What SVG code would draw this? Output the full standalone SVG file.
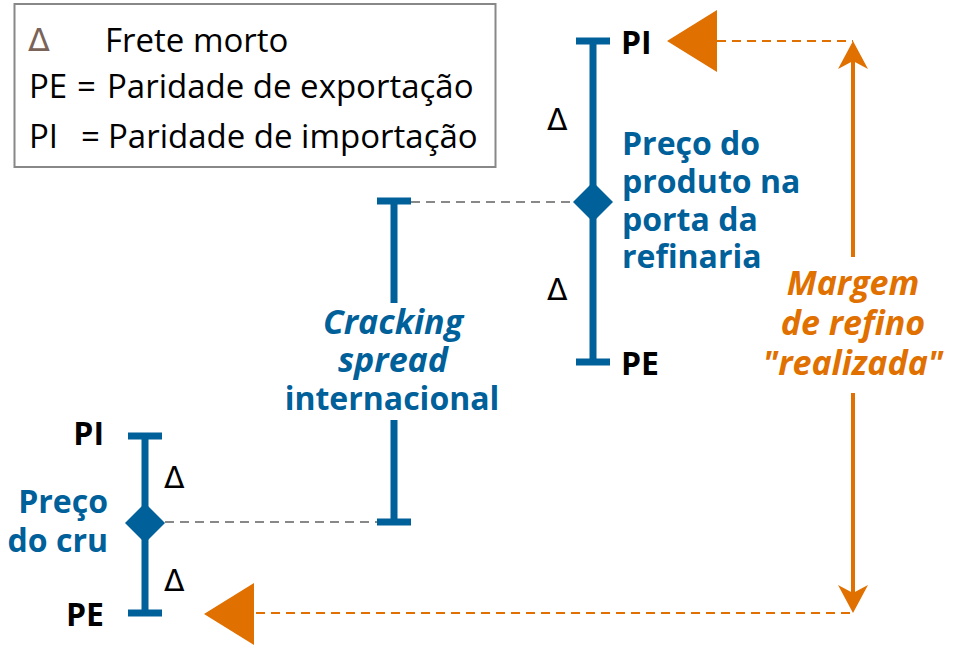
<svg xmlns="http://www.w3.org/2000/svg" width="964" height="646" viewBox="0 0 964 646">
<defs>
<style>
.leg{font-family:"Open Sans","Noto Sans",sans-serif;font-size:33px;fill:#000}
.lab{font-family:"Open Sans","Noto Sans",sans-serif;font-size:32px;font-weight:bold;fill:#000}
.blu{font-family:"Open Sans","Noto Sans",sans-serif;font-size:32px;font-weight:bold;fill:#00609a}
.ita{font-size:34px;font-style:italic}
.org{font-family:"Open Sans","Noto Sans",sans-serif;font-size:34px;font-weight:bold;font-style:italic;fill:#e07000}
.del{font-family:"DejaVu Sans",sans-serif;font-size:30px;fill:#000}
.bar{stroke:#00609a;stroke-width:7;fill:none}
.dia{fill:#00609a}
.gdash{stroke:#888;stroke-width:2;stroke-dasharray:9,6;fill:none}
.odash{stroke:#e07000;stroke-width:2;stroke-dasharray:9,6;fill:none}
.oline{stroke:#e07000;stroke-width:4;fill:none}
.otri{fill:#e07000}
</style>
</defs>
<rect width="964" height="646" fill="#fff"/>

<g id="legend">
<rect x="14.5" y="4" width="481" height="163" fill="#fff" stroke="#888" stroke-width="2"/>
<text x="28" y="51" style="fill:#7a6358;font-family:'DejaVu Sans',sans-serif;font-size:32px">Δ</text>
<text class="leg" x="105" y="52">Frete morto</text>
<text class="leg" x="29" y="98">PE</text>
<text class="leg" x="77" y="98">=</text>
<text class="leg" x="107" y="98">Paridade de exportação</text>
<text class="leg" x="29" y="148">PI</text>
<text class="leg" x="81" y="148">=</text>
<text class="leg" x="108" y="148">Paridade de importação</text>
</g>

<g id="connectors">
<line class="gdash" x1="411" y1="202" x2="578" y2="202"/>
<line class="gdash" x1="165" y1="522" x2="377" y2="522"/>
<line class="odash" x1="717" y1="41" x2="853" y2="41"/>
<line class="odash" x1="256" y1="613" x2="853" y2="613"/>
<line class="oline" x1="853" y1="257" x2="853" y2="60"/>
<path class="otri" d="M853 41 L868 69 L853 61 L838 69 Z"/>
<line class="oline" x1="853" y1="393" x2="853" y2="594"/>
<path class="otri" d="M853 613 L868 585 L853 593 L838 585 Z"/>
<path class="otri" d="M667 41 L717 10 L717 72 Z"/>
<path class="otri" d="M204 614 L254 583 L254 645 Z"/>
</g>

<g id="produto">
<path class="bar" d="M576 41 H610 M593 41 V362 M576 362 H610"/>
<path class="dia" d="M593 182 L613 202 L593 222 L573 202 Z"/>
<text class="lab" x="621" y="54">PI</text>
<text class="lab" x="621" y="375">PE</text>
<text class="del" x="547" y="130">Δ</text>
<text class="del" x="547" y="300">Δ</text>
<text class="blu" x="622" y="155">Preço do</text>
<text class="blu" x="622" y="193">produto na</text>
<text class="blu" x="622" y="231">porta da</text>
<text class="blu" x="622" y="268">refinaria</text>
</g>

<g id="cracking">
<path class="bar" d="M377 201 H411 M394 201 V303 M394 420 V522 M377 522 H411"/>
<text class="blu ita" x="393" y="334" text-anchor="middle">Cracking</text>
<text class="blu ita" x="393" y="372" text-anchor="middle">spread</text>
<text class="blu" x="392" y="410" text-anchor="middle">internacional</text>
</g>

<g id="cru">
<path class="bar" d="M128 436 H162 M145 436 V613 M128 613 H162"/>
<path class="dia" d="M145 503 L165 523 L145 543 L125 523 Z"/>
<text class="lab" x="104" y="445" text-anchor="end">PI</text>
<text class="lab" x="104" y="626" text-anchor="end">PE</text>
<text class="del" x="164" y="488">Δ</text>
<text class="del" x="164" y="591">Δ</text>
<text class="blu" x="108" y="513" text-anchor="end">Preço</text>
<text class="blu" x="108" y="552" text-anchor="end">do cru</text>
</g>

<g id="margem">
<text class="org" x="853" y="295" text-anchor="middle">Margem</text>
<text class="org" x="853" y="335" text-anchor="middle">de refino</text>
<text class="org" x="853" y="375" text-anchor="middle">"realizada"</text>
</g>
</svg>
